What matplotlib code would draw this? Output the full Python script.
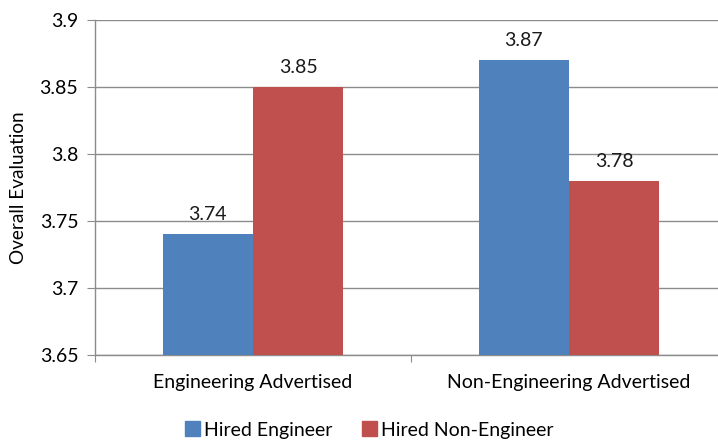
import matplotlib
matplotlib.use("Agg")
import matplotlib.pyplot as plt
import numpy as np
from matplotlib.patches import Patch

categories = ["Engineering Advertised", "Non-Engineering Advertised"]
series_names = ["Hired Engineer", "Hired Non-Engineer"]
hired_engineer = [3.74, 3.87]
hired_non_engineer = [3.85, 3.78]
y_ticks = [3.65, 3.7, 3.75, 3.8, 3.85, 3.9]
y_tick_labels = ["3.65", "3.7", "3.75", "3.8", "3.85", "3.9"]

colors = ["#4F81BD", "#C0504D"]
plt.rcParams["font.family"] = ["Lato", "DejaVu Sans"]

W, H = 718, 441
fig = plt.figure(figsize=(W / 100, H / 100), dpi=100)
# plot area runs slightly past the right edge of the canvas
left, right, top, bottom = 95, 727, 20, 355
ax = fig.add_axes([left / W, 1 - bottom / H, (right - left) / W, (bottom - top) / H])

x = np.arange(len(categories))
w = 1 / 3.5
bars1 = ax.bar(x - w / 2, hired_engineer, w, color=colors[0], zorder=3)
bars2 = ax.bar(x + w / 2, hired_non_engineer, w, color=colors[1], zorder=3)

for bars, vals in ((bars1, hired_engineer), (bars2, hired_non_engineer)):
    for b, v in zip(bars, vals):
        ax.annotate(f"{v:.2f}", (b.get_x() + b.get_width() / 2, v),
                    xytext=(0, 8), textcoords="offset points",
                    ha="center", va="bottom", fontsize=14, color="#1a1a1a")

ax.set_xlim(-0.5, 1.5)
ax.set_ylim(3.65, 3.9)
ax.set_yticks(y_ticks)
ax.set_yticklabels(y_tick_labels)
ax.yaxis.grid(True, color="#8c8c8c", linewidth=1.0, zorder=0)
ax.set_axisbelow(True)

ax.set_xticks([-0.5, 0.5, 1.5])
ax.set_xticklabels([])
ax.set_xticks(x, minor=True)
ax.set_xticklabels(categories, minor=True)
ax.tick_params(axis="x", which="minor", length=0, pad=14, labelsize=14)
ax.tick_params(axis="x", which="major", length=5, color="#8c8c8c", direction="out")
ax.tick_params(axis="y", length=6, color="#8c8c8c", pad=6, labelsize=14)

for s in ("top", "right"):
    ax.spines[s].set_visible(False)
for s in ("left", "bottom"):
    ax.spines[s].set_color("#8c8c8c")
    ax.spines[s].set_linewidth(1.0)

ax.set_ylabel("Overall Evaluation", fontsize=13.7)
ax.yaxis.set_label_coords(-(left - 27) / (right - left), 0.5)

handles = [Patch(color=c, label=n) for c, n in zip(colors, series_names)]
fig.legend(handles=handles, loc="center", bbox_to_anchor=(369 / W, 1 - 430 / H),
           ncol=2, frameon=False, fontsize=14, handlelength=0.8, handleheight=0.8,
           handletextpad=0.2, columnspacing=1.5)

fig.savefig("out.png", dpi=100)
